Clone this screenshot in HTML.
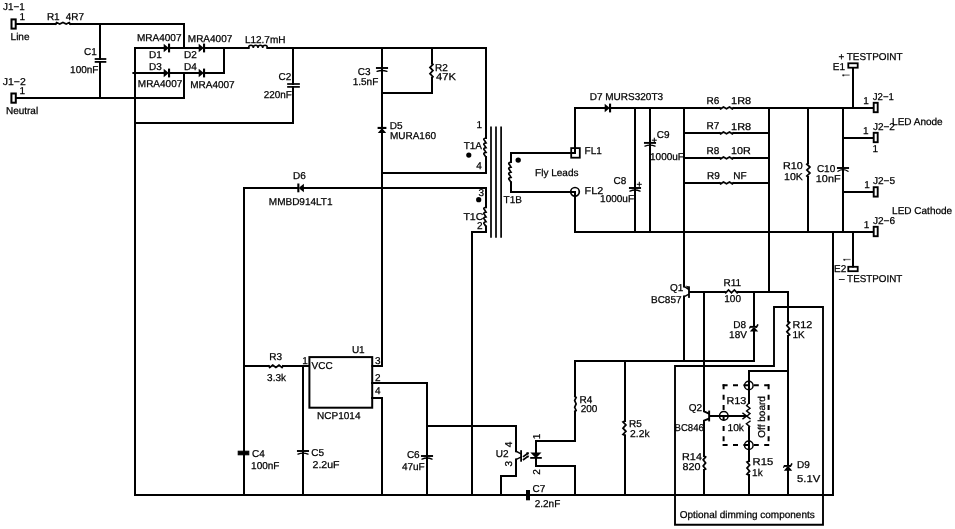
<!DOCTYPE html>
<html><head><meta charset="utf-8"><title>Schematic</title>
<style>html,body{margin:0;padding:0;background:#fff;}svg{display:block;will-change:transform;}</style></head>
<body><svg width="955" height="529" viewBox="0 0 955 529" text-rendering="geometricPrecision">
<rect width="955" height="529" fill="#fff"/>
<g fill="none" stroke="#000" stroke-linecap="square" stroke-linejoin="miter">
<rect x="11.5" y="19.4" width="4.2" height="9.2" stroke-width="2" fill="none"/>
<rect x="11.4" y="93.5" width="4.4" height="9.2" stroke-width="2" fill="none"/>
<polyline points="16.4,24 55.6,24" stroke-width="2"/>
<path d="M55.6,24 L56.63,22.57 L59.72,24.12 L62.95,22.57 L66.18,24.12 L69.27,22.57 L70.3,24" stroke-width="1.75" fill="none" stroke-linejoin="miter"/>
<polyline points="70.3,24 184,24 184,48" stroke-width="2"/>
<polyline points="16.4,98 184,98 184,73" stroke-width="2"/>
<polyline points="100,24 100,59" stroke-width="2"/>
<polyline points="100,61.9 100,98" stroke-width="2"/>
<line x1="95.6" y1="59" x2="105.4" y2="59" stroke-width="1.8"/>
<line x1="95.6" y1="61.9" x2="105.4" y2="61.9" stroke-width="1.8"/>
<polyline points="135,48 135,495" stroke-width="2"/>
<polyline points="135,48 164,48" stroke-width="2"/>
<polygon points="163.7,43.8 163.7,52.2 168.2,48.6 168.2,47.4" fill="#000" stroke="none"/>
<rect x="168" y="43.6" width="2.1" height="8.8" fill="#000" stroke="none"/>
<polyline points="170,48 199,48" stroke-width="2"/>
<polygon points="198.7,43.8 198.7,52.2 203.2,48.6 203.2,47.4" fill="#000" stroke="none"/>
<rect x="203" y="43.6" width="2.1" height="8.8" fill="#000" stroke="none"/>
<polyline points="205,48 248.6,48" stroke-width="2"/>
<polyline points="133.4,73 164,73" stroke-width="2"/>
<polygon points="163.7,68.8 163.7,77.2 168.2,73.6 168.2,72.4" fill="#000" stroke="none"/>
<rect x="168" y="68.6" width="2.1" height="8.8" fill="#000" stroke="none"/>
<polyline points="170,73 199,73" stroke-width="2"/>
<polygon points="198.7,68.8 198.7,77.2 203.2,73.6 203.2,72.4" fill="#000" stroke="none"/>
<rect x="203" y="68.6" width="2.1" height="8.8" fill="#000" stroke="none"/>
<polyline points="205,73 224,73 224,48" stroke-width="2"/>
<path d="M248.6,48 c0,-3.6 4.7,-3.6 4.7,0 c0,-3.6 4.7,-3.6 4.7,0 c0,-3.6 4.7,-3.6 4.7,0 c0,-3.6 4.7,-3.6 4.7,0" stroke-width="1.5" fill="none"/>
<polyline points="267.4,48 486,48 486,138" stroke-width="2"/>
<polyline points="135,123 293,123 293,86.9" stroke-width="2"/>
<polyline points="293,48 293,84" stroke-width="2"/>
<line x1="288" y1="84" x2="299" y2="84" stroke-width="1.7"/>
<line x1="288" y1="86.9" x2="299" y2="86.9" stroke-width="1.7"/>
<polyline points="382,48 382,366 372.4,366" stroke-width="2"/>
<line x1="376.9" y1="68" x2="387.1" y2="68" stroke-width="1.9"/>
<path d="M377,71.4 Q382,69.6 387,71.4" stroke-width="1.3" fill="none" stroke-linecap="round"/>
<polygon points="377.8,133.1 386.2,133.1 382.6,128.8 381.4,128.8" fill="#000" stroke="none"/>
<rect x="377.6" y="126.9" width="8.8" height="2.1" fill="#000" stroke="none"/>
<polyline points="432,48 432,63.4" stroke-width="2"/>
<path d="M432,63.4 L432.93,64.4 L429.98,67.4 L432.93,70.55 L429.98,73.7 L432.93,76.7 L432,77.7" stroke-width="1.75" fill="none" stroke-linejoin="miter"/>
<polyline points="432,77.7 432,93 382,93" stroke-width="2"/>
<path d="M486,138 q-3.6,0.72 -1.4,2.64 l1.4,2.16 q-3.6,0.72 -1.4,2.64 l1.4,2.16 q-3.6,0.72 -1.4,2.64 l1.4,2.16 q-3.6,0.72 -1.4,2.64 l1.4,2.16" stroke-width="1.7" fill="none"/>
<polyline points="486,157 486,173 382,173" stroke-width="2"/>
<polyline points="244,495 244,188 297,188" stroke-width="2"/>
<polygon points="303.9,183.8 303.9,192.2 299.2,188.6 299.2,187.4" fill="#000" stroke="none"/>
<rect x="297.3" y="183.5" width="2.1" height="8.8" fill="#000" stroke="none"/>
<polyline points="303.6,188 486,188 486,207.2" stroke-width="2"/>
<path d="M486,207.2 q-3.6,0.73 -1.4,2.67 l1.4,2.18 q-3.6,0.73 -1.4,2.67 l1.4,2.18 q-3.6,0.73 -1.4,2.67 l1.4,2.18 q-3.6,0.73 -1.4,2.67 l1.4,2.18" stroke-width="1.7" fill="none"/>
<polyline points="486,226.4 486,232 472,232 472,495" stroke-width="2"/>
<line x1="491" y1="127.4" x2="491" y2="237" stroke-width="1.7"/>
<line x1="496" y1="127.4" x2="496" y2="237" stroke-width="1.7"/>
<line x1="501.1" y1="127.4" x2="501.1" y2="237" stroke-width="1.7"/>
<polyline points="575,153 511,153 511,162.1" stroke-width="2"/>
<path d="M511,162.1 q-3.6,0.76 -1.4,2.79 l1.4,2.28 q-3.6,0.76 -1.4,2.79 l1.4,2.28 q-3.6,0.76 -1.4,2.79 l1.4,2.28 q-3.6,0.76 -1.4,2.79 l1.4,2.28" stroke-width="1.7" fill="none"/>
<polyline points="511,182.2 511,192 575,192" stroke-width="2"/>
<rect x="571.2" y="148.1" width="8.6" height="9.6" stroke-width="1.8" fill="none"/>
<circle cx="575" cy="191.8" r="4.3" stroke-width="1.7" fill="none"/>
<circle cx="468.8" cy="155.1" r="2.6" fill="#000" stroke="none"/>
<circle cx="518.2" cy="160.1" r="2.7" fill="#000" stroke="none"/>
<circle cx="478.7" cy="199.7" r="2.6" fill="#000" stroke="none"/>
<polyline points="575,153 575,108 605,108" stroke-width="2"/>
<polygon points="604.7,103.8 604.7,112.2 609.2,108.6 609.2,107.4" fill="#000" stroke="none"/>
<rect x="609" y="103.6" width="2.1" height="8.8" fill="#000" stroke="none"/>
<polyline points="611,108 719.7,108" stroke-width="2"/>
<path d="M719.7,108 L720.65,108.83 L723.51,106.97 L726.5,108.83 L729.49,106.97 L732.35,108.83 L733.3,108" stroke-width="1.75" fill="none" stroke-linejoin="miter"/>
<polyline points="733.3,108 873,108" stroke-width="2"/>
<polyline points="575,192 575,232 873,232" stroke-width="2"/>
<polyline points="635,108 635,232" stroke-width="2"/>
<line x1="629.9" y1="188" x2="640.1" y2="188" stroke-width="1.9"/>
<path d="M630,191.2 Q635,188.8 640,191.2" stroke-width="1.3" fill="none" stroke-linecap="round"/>
<polyline points="650,108 650,232" stroke-width="2"/>
<line x1="644.9" y1="142.9" x2="655.1" y2="142.9" stroke-width="1.9"/>
<path d="M645,146.2 Q650,144.2 655,146.2" stroke-width="1.3" fill="none" stroke-linecap="round"/>
<path d="M652.3,140.2 h4 M654.3,138.2 v4" stroke-width="1" fill="none"/>
<path d="M637.3,184.3 h4 M639.3,182.3 v4" stroke-width="1" fill="none"/>
<polyline points="684,108 684,286.6" stroke-width="2"/>
<polyline points="684,133 719.7,133" stroke-width="2"/>
<path d="M719.7,133 L720.65,133.82 L723.51,131.97 L726.5,133.82 L729.49,131.97 L732.35,133.82 L733.3,133" stroke-width="1.75" fill="none" stroke-linejoin="miter"/>
<polyline points="733.3,133 769,133" stroke-width="2"/>
<polyline points="684,158 719.7,158" stroke-width="2"/>
<path d="M719.7,158 L720.65,158.82 L723.51,156.97 L726.5,158.82 L729.49,156.97 L732.35,158.82 L733.3,158" stroke-width="1.75" fill="none" stroke-linejoin="miter"/>
<polyline points="733.3,158 769,158" stroke-width="2"/>
<polyline points="684,183 719.7,183" stroke-width="2"/>
<path d="M719.7,183 L720.65,183.82 L723.51,181.97 L726.5,183.82 L729.49,181.97 L732.35,183.82 L733.3,183" stroke-width="1.75" fill="none" stroke-linejoin="miter"/>
<polyline points="733.3,183 769,183" stroke-width="2"/>
<polyline points="769,108 769,292" stroke-width="2"/>
<polyline points="808,108 808,163.2" stroke-width="2"/>
<path d="M808,163.2 L806.88,164.16 L809.92,167.04 L806.88,170.05 L809.92,173.06 L806.88,175.94 L808,176.9" stroke-width="1.75" fill="none" stroke-linejoin="miter"/>
<polyline points="808,176.9 808,232" stroke-width="2"/>
<polyline points="843,108 843,232" stroke-width="2"/>
<line x1="837.9" y1="168" x2="848.1" y2="168" stroke-width="1.9"/>
<path d="M838,171.3 Q843,168.1 848,171.3" stroke-width="1.3" fill="none" stroke-linecap="round"/>
<polyline points="843,138 873,138" stroke-width="2"/>
<polyline points="843,192 873,192" stroke-width="2"/>
<rect x="873.7" y="102.8" width="4" height="9.4" stroke-width="1.9" fill="none"/>
<rect x="873.7" y="132.8" width="4" height="9.4" stroke-width="1.9" fill="none"/>
<rect x="873.7" y="187.2" width="4" height="9.4" stroke-width="1.9" fill="none"/>
<rect x="873.7" y="226.8" width="4" height="9.4" stroke-width="1.9" fill="none"/>
<polyline points="853,68.3 853,108" stroke-width="2"/>
<rect x="848.3" y="63.3" width="9.4" height="4.4" stroke-width="1.8" fill="none"/>
<polyline points="853,232 853,266.6" stroke-width="2"/>
<rect x="848.3" y="266.8" width="9.4" height="4.4" stroke-width="1.8" fill="none"/>
<polyline points="833,232 833,495" stroke-width="2"/>
<rect x="309.4" y="357.1" width="62.8" height="50.6" stroke-width="2" fill="none"/>
<polyline points="244,366 268.75,366" stroke-width="2"/>
<polyline points="283,366 309,366" stroke-width="2"/>
<path d="M268.75,366 L269.75,367.52 L272.74,365.18 L275.88,367.52 L279.01,365.18 L282,367.52 L283,366" stroke-width="1.75" fill="none" stroke-linejoin="miter"/>
<polyline points="303,366 303,495" stroke-width="2"/>
<line x1="297.9" y1="451" x2="308.1" y2="451" stroke-width="1.9"/>
<path d="M298,454.2 Q303,452.2 308,454.2" stroke-width="1.3" fill="none" stroke-linecap="round"/>
<polyline points="372,383 427,383 427,495" stroke-width="2"/>
<line x1="421.9" y1="456" x2="432.1" y2="456" stroke-width="1.9"/>
<path d="M422,459.2 Q427,456.8 432,459.2" stroke-width="1.3" fill="none" stroke-linecap="round"/>
<polyline points="372,398 382,398 382,495" stroke-width="2"/>
<polyline points="427,426 516,426 516,451.2" stroke-width="2"/>
<polyline points="244,188 244,451.5" stroke-width="2"/>
<polyline points="244,454.6 244,495" stroke-width="2"/>
<rect x="238.2" y="451.2" width="10.6" height="3.6" fill="#000"/>
<polyline points="135,495 526,495" stroke-width="2"/>
<polyline points="530,495 833,495" stroke-width="2"/>
<rect x="526" y="490" width="4" height="10.3" fill="#000" stroke="none"/>
<rect x="520.2" y="450.2" width="1.8" height="11.5" fill="#000" stroke="none"/>
<path d="M516,451.2 L520.3,453.5" stroke-width="1.5" fill="none"/>
<path d="M520.3,457.4 L516,459.6" stroke-width="1.5" fill="none"/>
<polyline points="516,459.4 516,476 501,476 501,495" stroke-width="2"/>
<path d="M523.6,456.4 L527.6,453.5 M523.6,459.5 L527.6,456.6" stroke-width="1.7" fill="none"/>
<polygon points="529.2,452.4 526.2,452.9 528,455" fill="#000" stroke="none"/>
<polygon points="529.2,455.5 526.2,456 528,458.1" fill="#000" stroke="none"/>
<polygon points="528.8,452.4 526,452.6 527.6,454.6" fill="#000" stroke="none"/>
<polyline points="536,441 536,466" stroke-width="2"/>
<polyline points="536,441 575,441 575,411.5" stroke-width="2"/>
<path d="M575,396.3 L576.12,397.36 L574.67,400.56 L576.12,403.9 L574.67,407.24 L576.12,410.44 L575,411.5" stroke-width="1.75" fill="none" stroke-linejoin="miter"/>
<polyline points="575,396.3 575,361 754,361 754,331.5" stroke-width="2"/>
<polygon points="530.3,452.6 541.5,452.6 536.8,457.3 535,457.3" fill="#000" stroke="none"/>
<rect x="530.2" y="457" width="11.6" height="1.8" fill="#000" stroke="none"/>
<polyline points="536,466 575,466 575,495" stroke-width="2"/>
<polyline points="625,361 625,420.9" stroke-width="2"/>
<path d="M625,420.9 L622.98,421.91 L625.92,424.96 L622.98,428.15 L625.92,431.34 L622.98,434.38 L625,435.4" stroke-width="1.75" fill="none" stroke-linejoin="miter"/>
<polyline points="625,435.4 625,495" stroke-width="2"/>
<path d="M684,286.4 L688.4,289.2" stroke-width="1.4" fill="none"/>
<path d="M688.4,294.4 L684,296.8" stroke-width="1.4" fill="none"/>
<polyline points="684,296.6 684,361" stroke-width="2"/>
<rect x="688.1" y="286.3" width="1.8" height="11.6" fill="#000" stroke="none"/>
<polygon points="688.6,289.6 685.6,285.6 688.6,286.4" fill="#000" stroke="none"/>
<polyline points="690,292 724.8,292" stroke-width="2"/>
<path d="M724.8,292 L725.73,292.82 L728.52,289.88 L731.45,292.82 L734.38,289.88 L737.17,292.82 L738.1,292" stroke-width="1.75" fill="none" stroke-linejoin="miter"/>
<polyline points="738.1,292 788,292" stroke-width="2"/>
<polyline points="754,292 754,325.6" stroke-width="2"/>
<polygon points="749.8,331.6 758.2,331.6 754.9,327.7 753.1,327.7" fill="#000" stroke="none"/>
<rect x="750" y="325.9" width="6.8" height="1.9" fill="#000" stroke="none"/>
<path d="M756.6,326.9 L757.6,325" stroke-width="1.6" fill="none"/>
<path d="M750.2,326.9 L749.7,328" stroke-width="1.2" fill="none"/>
<polyline points="788,292 788,321.4" stroke-width="2"/>
<path d="M788,321.4 L789.62,322.41 L786.88,325.46 L789.62,328.65 L786.88,331.84 L789.62,334.88 L788,335.9" stroke-width="1.75" fill="none" stroke-linejoin="miter"/>
<polyline points="788,335.9 788,464.5" stroke-width="2"/>
<polygon points="783.8,470.7 792.2,470.7 788.9,466.8 787.1,466.8" fill="#000" stroke="none"/>
<rect x="784" y="465" width="6.8" height="1.9" fill="#000" stroke="none"/>
<path d="M790.6,466 L791.6,464.1" stroke-width="1.6" fill="none"/>
<path d="M784.2,466 L783.7,467.1" stroke-width="1.2" fill="none"/>
<polyline points="788,470.7 788,495" stroke-width="2"/>
<polyline points="704,292 704,411.4 708.6,413.4" stroke-width="2"/>
<rect x="708.2" y="410.6" width="1.9" height="10.8" fill="#000" stroke="none"/>
<polyline points="708.6,418.8 704,420.6 704,455.9" stroke-width="2"/>
<path d="M704,455.9 L705.62,456.88 L703.17,459.82 L705.62,462.9 L703.17,465.98 L705.62,468.92 L704,469.9" stroke-width="1.75" fill="none" stroke-linejoin="miter"/>
<polyline points="704,469.9 704,495" stroke-width="2"/>
<polyline points="788,371 749,371 749,403.1" stroke-width="2"/>
<polyline points="749,427.3 749,461.1" stroke-width="2"/>
<path d="M749,461.1 L746.98,462.08 L749.62,465.02 L746.98,468.1 L749.62,471.18 L746.98,474.12 L749,475.1" stroke-width="1.75" fill="none" stroke-linejoin="miter"/>
<polyline points="749,475.1 749,495" stroke-width="2"/>
<path d="M749,403.1 L746.6,405.6 L750,408.3 L746.6,411 L750,413.6 L746.9,416.2 L750,418.6 M750,421.2 L746.4,423.8 L749.6,426.4 L749,427.3" stroke-width="1.4" fill="none"/>
<polyline points="710,416 745.5,416" stroke-width="2"/>
<path d="M743,413.3 L746.6,416 L743,418.7" stroke-width="1.4" fill="none"/>
<circle cx="748.8" cy="385.5" r="4.3" stroke-width="1.5" fill="none"/>
<circle cx="748.8" cy="445.2" r="4.3" stroke-width="1.5" fill="none"/>
<circle cx="723.8" cy="415.9" r="4.3" stroke-width="1.5" fill="none"/>
<path d="M722.6,385.3 H769.6" stroke-width="2" stroke-dasharray="5 5.4" stroke-linecap="butt"/>
<path d="M723.6,384.3 V445.9" stroke-width="2" stroke-dasharray="5 5.4" stroke-linecap="butt"/>
<path d="M768.6,384.3 V445.9" stroke-width="2" stroke-dasharray="5 5.4" stroke-linecap="butt"/>
<path d="M722.6,444.9 H769.6" stroke-width="2" stroke-dasharray="5 5.4" stroke-linecap="butt"/>
<path d="M675,366 H774 V307 H823 V524.7 H675 Z" stroke-width="1.9"/>
<line x1="842.8" y1="75.1" x2="849" y2="75.1" stroke="#777" stroke-width="1.3"/>
<circle cx="843.4" cy="75.4" r="0.9" fill="#222" stroke="none"/>
<line x1="843.8" y1="259.5" x2="850" y2="259.5" stroke="#777" stroke-width="1.3"/>
<circle cx="844.4" cy="259.8" r="0.9" fill="#222" stroke="none"/>
</g>
<g font-family="Liberation Sans, sans-serif" font-size="10" fill="#000" stroke="#000" stroke-width="0.25">
<text x="3" y="10" textLength="21.64" lengthAdjust="spacingAndGlyphs">J1−1</text>
<text x="19.45" y="20">1</text>
<text x="46.9" y="20">R1</text>
<text x="65.8" y="20" textLength="18.26" lengthAdjust="spacingAndGlyphs">4R7</text>
<text x="10.58" y="40">Line</text>
<text x="84" y="55">C1</text>
<text x="70.09" y="73">100nF</text>
<text x="2.8" y="85" textLength="22.94" lengthAdjust="spacingAndGlyphs">J1−2</text>
<text x="19.58" y="94">1</text>
<text x="5.92" y="114">Neutral</text>
<text x="137.01" y="41">MRA4007</text>
<text x="187.82" y="42">MRA4007</text>
<text x="137.81" y="87">MRA4007</text>
<text x="190.21" y="88">MRA4007</text>
<text x="149.08" y="58">D1</text>
<text x="184.03" y="58">D2</text>
<text x="149.01" y="70">D3</text>
<text x="184.03" y="70">D4</text>
<text x="244.9" y="43">L12.7mH</text>
<text x="278.6" y="80">C2</text>
<text x="263.8" y="98" textLength="28.07" lengthAdjust="spacingAndGlyphs">220nF</text>
<text x="357.8" y="75">C3</text>
<text x="352.68" y="85">1.5nF</text>
<text x="434.95" y="71">R2</text>
<text x="436.1" y="80" textLength="19.91" lengthAdjust="spacingAndGlyphs">47K</text>
<text x="389.79" y="129">D5</text>
<text x="389.9" y="139">MURA160</text>
<text x="292.95" y="179">D6</text>
<text x="268.81" y="205">MMBD914LT1</text>
<text x="476.4" y="128">1</text>
<text x="463.7" y="149">T1A</text>
<text x="476.2" y="169">4</text>
<text x="478.5" y="196">3</text>
<text x="463.4" y="220" textLength="20.06" lengthAdjust="spacingAndGlyphs">T1C</text>
<text x="477.1" y="229">2</text>
<text x="503.6" y="203">T1B</text>
<text x="584.58" y="154">FL1</text>
<text x="584.57" y="194" textLength="18.56" lengthAdjust="spacingAndGlyphs">FL2</text>
<text x="589.71" y="100">D7 MURS320T3</text>
<text x="656.8" y="138">C9</text>
<text x="650.02" y="160">1000uF</text>
<text x="613.6" y="184">C8</text>
<text x="600.12" y="202">1000uF</text>
<text x="706.46" y="104">R6</text>
<text x="731.04" y="104" textLength="20.12" lengthAdjust="spacingAndGlyphs">1R8</text>
<text x="706.46" y="129">R7</text>
<text x="731.04" y="130" textLength="20.12" lengthAdjust="spacingAndGlyphs">1R8</text>
<text x="706.46" y="154">R8</text>
<text x="731.06" y="154" textLength="19.78" lengthAdjust="spacingAndGlyphs">10R</text>
<text x="707.01" y="179">R9</text>
<text x="733.34" y="179">NF</text>
<text x="783.06" y="169" textLength="19.78" lengthAdjust="spacingAndGlyphs">R10</text>
<text x="784.06" y="180" textLength="18.79" lengthAdjust="spacingAndGlyphs">10K</text>
<text x="816.9" y="172">C10</text>
<text x="815.87" y="182" textLength="24.65" lengthAdjust="spacingAndGlyphs">10nF</text>
<text x="838.4" y="60" textLength="64.17" lengthAdjust="spacingAndGlyphs">+ TESTPOINT</text>
<text x="832.75" y="70">E1</text>
<text x="863.23" y="104">1</text>
<text x="872.8" y="100" textLength="21.12" lengthAdjust="spacingAndGlyphs">J2−1</text>
<text x="863.1" y="134">1</text>
<text x="872.9" y="130">J2−2</text>
<text x="892.09" y="125">LED Anode</text>
<text x="872.48" y="152">1</text>
<text x="864.15" y="188">1</text>
<text x="872.9" y="184" textLength="22.16" lengthAdjust="spacingAndGlyphs">J2−5</text>
<text x="892.12" y="214">LED Cathode</text>
<text x="863.65" y="228">1</text>
<text x="872.9" y="224" textLength="22.16" lengthAdjust="spacingAndGlyphs">J2−6</text>
<text x="834.05" y="272">E2</text>
<text x="839.1" y="282" textLength="63.27" lengthAdjust="spacingAndGlyphs">– TESTPOINT</text>
<text x="670.1" y="291">Q1</text>
<text x="650.98" y="303">BC857</text>
<text x="723.49" y="286">R11</text>
<text x="724.31" y="302">100</text>
<text x="733.28" y="328">D8</text>
<text x="729.12" y="338">18V</text>
<text x="792.56" y="328" textLength="19.78" lengthAdjust="spacingAndGlyphs">R12</text>
<text x="792.5" y="338">1K</text>
<text x="269.25" y="360">R3</text>
<text x="267.1" y="381">3.3k</text>
<text x="351.88" y="353">U1</text>
<text x="302.23" y="364">1</text>
<text x="311.6" y="369">VCC</text>
<text x="375.1" y="364">3</text>
<text x="375.1" y="381">2</text>
<text x="375.1" y="394">4</text>
<text x="317.08" y="419">NCP1014</text>
<text x="252.1" y="457">C4</text>
<text x="251.08" y="469">100nF</text>
<text x="311.3" y="456">C5</text>
<text x="312.5" y="468" textLength="27.04" lengthAdjust="spacingAndGlyphs">2.2uF</text>
<text x="406.9" y="458">C6</text>
<text x="401.9" y="470">47uF</text>
<text x="495.82" y="457">U2</text>
<text x="532.6" y="492">C7</text>
<text x="534.7" y="507">2.2nF</text>
<text x="579.57" y="403">R4</text>
<text x="580.7" y="412">200</text>
<text x="629" y="427">R5</text>
<text x="630.1" y="437" textLength="19.47" lengthAdjust="spacingAndGlyphs">2.2k</text>
<text x="688.7" y="411">Q2</text>
<text x="674.56" y="431" textLength="29.29" lengthAdjust="spacingAndGlyphs">BC846</text>
<text x="726.45" y="404" textLength="20.01" lengthAdjust="spacingAndGlyphs">R13</text>
<text x="727.43" y="431" textLength="16.55" lengthAdjust="spacingAndGlyphs">10k</text>
<text x="682.05" y="460" textLength="19.89" lengthAdjust="spacingAndGlyphs">R14</text>
<text x="682.6" y="470" textLength="17.96" lengthAdjust="spacingAndGlyphs">820</text>
<text x="752.51" y="465" textLength="20.68" lengthAdjust="spacingAndGlyphs">R15</text>
<text x="752.1" y="476">1k</text>
<text x="796.95" y="468">D9</text>
<text x="797.05" y="482" textLength="23.1" lengthAdjust="spacingAndGlyphs">5.1V</text>
<text x="535.1" y="176">Fly Leads</text>
<text x="679.7" y="518">Optional dimming components</text>
<text x="510.0" y="444.4" text-anchor="middle" dominant-baseline="central" transform="rotate(-90 510.0 444.4)">4</text>
<text x="509.9" y="463.8" text-anchor="middle" dominant-baseline="central" transform="rotate(-90 509.9 463.8)">3</text>
<text x="537.6" y="436.4" text-anchor="middle" dominant-baseline="central" transform="rotate(-90 537.6 436.4)">1</text>
<text x="537.3" y="472.0" text-anchor="middle" dominant-baseline="central" transform="rotate(-90 537.3 472.0)">2</text>
<text x="762.3" y="416.9" text-anchor="middle" dominant-baseline="central" transform="rotate(-90 762.3 416.9)">Off board</text>
</g>
</svg></body></html>
